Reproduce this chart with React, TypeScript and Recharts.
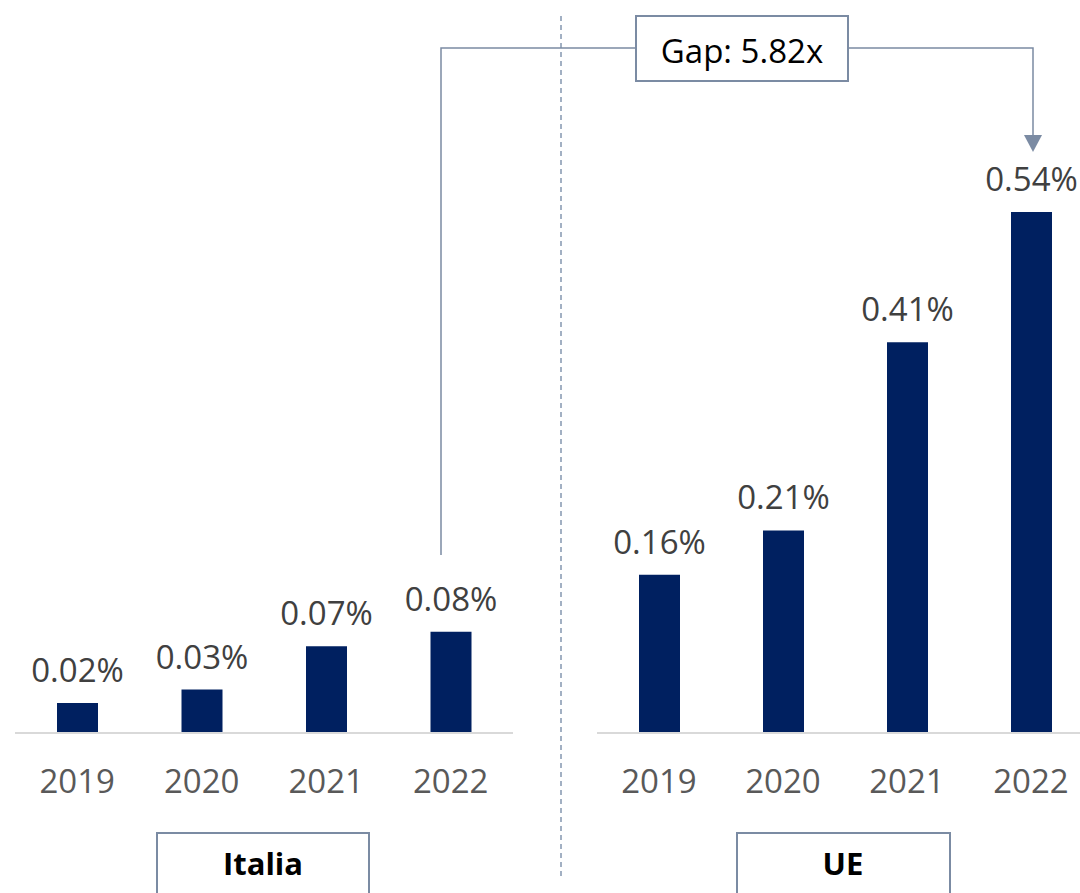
import React from "react";
import { BarChart, Bar, XAxis, YAxis, LabelList } from "recharts";

const years = ["2019", "2020", "2021", "2022"];
// values (in %)
const italiaValues = [0.031, 0.045, 0.09, 0.105];
const ueValues = [0.164, 0.21, 0.405, 0.54];
// displayed data labels
const italiaLabels = ["0.02%", "0.03%", "0.07%", "0.08%"];
const ueLabels = ["0.16%", "0.21%", "0.41%", "0.54%"];
const groupNames = ["Italia", "UE"];
const gapText = "Gap: 5.82x";

const italiaData = years.map((y, i) => ({ year: y, value: italiaValues[i], label: italiaLabels[i] }));
const ueData = years.map((y, i) => ({ year: y, value: ueValues[i], label: ueLabels[i] }));

const FONT = "'Open Sans', 'Noto Sans', sans-serif";
const BAR = "#002060";
const LINE = "#7b8ba3";

function Panel({ data, left, width, marginLeft, marginRight }: any) {
  return (
    <div style={{ position: "absolute", left, top: 0 }}>
      <BarChart
        width={width}
        height={893}
        data={data}
        margin={{ top: 212, right: marginRight, bottom: 130, left: marginLeft }}
        barSize={41}
      >
        <XAxis
          dataKey="year"
          height={30}
          tickLine={false}
          tickSize={0}
          tickMargin={37}
          axisLine={{ stroke: "#d9d9d9", strokeWidth: 2 }}
          tick={{ fill: "#595959", fontSize: 33, fontFamily: FONT }}
          interval={0}
        />
        <YAxis hide domain={[0, 0.54]} />
        <Bar dataKey="value" fill={BAR} isAnimationActive={false}>
          <LabelList
            dataKey="label"
            position="top"
            offset={21}
            fill="#404040"
            fontSize={33}
            fontFamily={FONT}
          />
        </Bar>
      </BarChart>
    </div>
  );
}

export default function App() {
  return (
    <div
      style={{
        position: "absolute",
        left: 0,
        top: 0,
        width: 1080,
        height: 893,
        overflow: "hidden",
        background: "#fff",
        fontFamily: FONT,
      }}
    >
      <Panel data={italiaData} left={0} width={540} marginLeft={15} marginRight={27} />
      <Panel data={ueData} left={0} width={1120} marginLeft={597} marginRight={27} />
      <svg
        width={1080}
        height={893}
        style={{ position: "absolute", left: 0, top: 0, pointerEvents: "none" }}
      >
        <line x1={561} y1={16} x2={561} y2={880} stroke="#8497b0" strokeWidth={1.5} strokeDasharray="5 4" />
        <polyline points="441,555 441,48 636,48" fill="none" stroke={LINE} strokeWidth={1.5} />
        <polyline points="848,48 1033,48 1033,137" fill="none" stroke={LINE} strokeWidth={1.5} />
        <polygon points="1024,135 1042,135 1033,152" fill={LINE} />
        <rect x={636} y={16} width={212} height={65} fill="#fff" stroke={LINE} strokeWidth={2} />
        <text x={742} y={63} textAnchor="middle" fontSize={33} fontFamily={FONT} fill="#000">
          {gapText}
        </text>
        <rect x={157} y={833} width={212} height={80} fill="#fff" stroke={LINE} strokeWidth={2} />
        <text x={263} y={875} textAnchor="middle" fontSize={31} fontWeight="bold" fontFamily={FONT} fill="#000">
          {groupNames[0]}
        </text>
        <rect x={737} y={833} width={213} height={80} fill="#fff" stroke={LINE} strokeWidth={2} />
        <text x={843} y={875} textAnchor="middle" fontSize={31} fontWeight="bold" fontFamily={FONT} fill="#000">
          {groupNames[1]}
        </text>
      </svg>
    </div>
  );
}
